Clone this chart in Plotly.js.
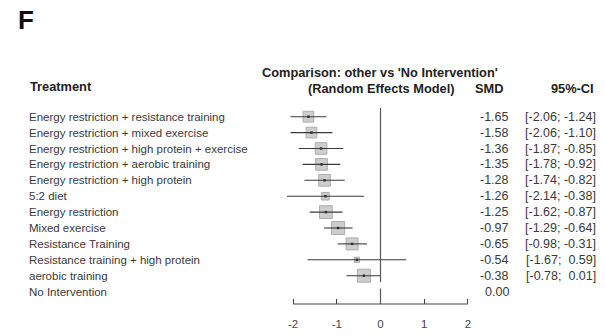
<!DOCTYPE html>
<html>
<head>
<meta charset="utf-8">
<script src="https://cdn.plot.ly/plotly-3.0.1.min.js"></script>
<style>html,body{margin:0;padding:0;background:#fff}</style>
</head>
<body>
<div id="chart" style="width:606px;height:336px"></div>
<script>
// Network meta-analysis forest plot: each treatment compared with 'No Intervention'
const treatments = [
  "Energy restriction + resistance training",
  "Energy restriction + mixed exercise",
  "Energy restriction + high protein + exercise",
  "Energy restriction + aerobic training",
  "Energy restriction + high protein",
  "5:2 diet",
  "Energy restriction",
  "Mixed exercise",
  "Resistance Training",
  "Resistance training + high protein",
  "aerobic training",
  "No Intervention"
];
const smd    = [-1.65, -1.58, -1.36, -1.35, -1.28, -1.26, -1.25, -0.97, -0.65, -0.54, -0.38, 0.00];
const ciLow  = [-2.06, -2.06, -1.87, -1.78, -1.74, -2.14, -1.62, -1.29, -0.98, -1.67, -0.78, null];
const ciHigh = [-1.24, -1.10, -0.85, -0.92, -0.82, -0.38, -0.87, -0.64, -0.31,  0.59,  0.01, null];
// relative study weights (box area)
const weights = [17, 17, 20, 20, 20, 8.5, 24, 25, 21, 4, 25, 0];
const axisTicks = [-2, -1, 0, 1, 2];
const axisTickText = ["-2", "-1", "0", "1", "2"];

const W = 606, H = 336;
const rows = treatments.map((_, i) => i);
const est = rows.filter(i => ciLow[i] !== null);

const fontFam = '"Liberation Sans", Arial, sans-serif';
const px = p => p / W;
const py = p => 1 - p / H;

// confidence interval segments
const ciX = [], ciY = [];
est.forEach(i => { ciX.push(ciLow[i], ciHigh[i], null); ciY.push(i, i, null); });

const traces = [
  {
    type: 'scatter', mode: 'markers',
    x: est.map(i => smd[i]), y: est,
    marker: {
      symbol: 'square',
      size: est.map(i => 2.6 * Math.sqrt(weights[i])),
      color: 'rgba(160,160,160,0.75)',
      line: { color: '#8a8a8a', width: 1 }
    },
    hoverinfo: 'skip', cliponaxis: false
  },
  {
    type: 'scatter', mode: 'lines',
    x: ciX, y: ciY,
    line: { color: '#3a3a3a', width: 1.1 },
    hoverinfo: 'skip', cliponaxis: false
  },
  {
    type: 'scatter', mode: 'markers',
    x: est.map(i => smd[i]), y: est,
    marker: { symbol: 'square', size: 2.5, color: '#333' },
    hoverinfo: 'skip', cliponaxis: false
  }
];

const fmt = v => v.toFixed(2);
const annotations = [];
const headFont = { family: fontFam, size: 12.8, color: '#222' };
const bodyFont = { family: fontFam, size: 11.5, color: '#3a3a3a' };
const valueFont = { family: fontFam, size: 12.5, color: '#3a3a3a' };

// panel letter and headers
annotations.push({ xref: 'paper', yref: 'paper', x: px(16), y: py(20), xanchor: 'left', yanchor: 'middle',
  text: '<b>F</b>', showarrow: false, font: { family: fontFam, size: 26, color: '#111' } });
annotations.push({ xref: 'paper', yref: 'paper', x: px(28), y: py(87), xanchor: 'left', yanchor: 'middle',
  text: '<b>Treatment</b>', showarrow: false, font: headFont });
annotations.push({ xref: 'paper', yref: 'paper', x: px(380), y: py(72), xanchor: 'center', yanchor: 'middle',
  text: "<b>Comparison: other vs 'No Intervention'</b>", showarrow: false, font: headFont });
annotations.push({ xref: 'paper', yref: 'paper', x: px(456), y: py(89), xanchor: 'right', yanchor: 'middle',
  text: '<b>(Random Effects Model)</b>', showarrow: false, font: headFont });
annotations.push({ xref: 'paper', yref: 'paper', x: px(505), y: py(89), xanchor: 'right', yanchor: 'middle',
  text: '<b>SMD</b>', showarrow: false, font: headFont });
annotations.push({ xref: 'paper', yref: 'paper', x: px(596), y: py(89), xanchor: 'right', yanchor: 'middle',
  text: '<b>95%-CI</b>', showarrow: false, font: headFont });

// row labels and values
rows.forEach(i => {
  annotations.push({ xref: 'paper', yref: 'y', x: px(27), y: i, xanchor: 'left', yanchor: 'middle',
    text: treatments[i], showarrow: false, font: bodyFont });
  annotations.push({ xref: 'paper', yref: 'y', x: px(511), y: i, xanchor: 'right', yanchor: 'middle',
    text: fmt(smd[i]), showarrow: false, font: valueFont });
  if (ciLow[i] !== null) {
    const hi = ciHigh[i] >= 0 ? '\u00a0\u00a0' + fmt(ciHigh[i]) : '\u00a0' + fmt(ciHigh[i]);
    annotations.push({ xref: 'paper', yref: 'y', x: px(598), y: i, xanchor: 'right', yanchor: 'middle',
      text: '[' + fmt(ciLow[i]) + ';' + hi + ']', showarrow: false, font: valueFont });
  }
});

// axis geometry: x=0 at 380.5px, 43.7px per unit; rows start at 116.7px, 15.9px apart
const xPix0 = 380.5, xUnit = 43.7;
const domL = 250, domR = 500;
const rowTop = 116.7, rowStep = 15.9;
const domTop = 100, domBot = 304;

const layout = {
  width: W, height: H,
  margin: { l: 0, r: 0, t: 0, b: 0 },
  paper_bgcolor: '#fff', plot_bgcolor: '#fff',
  showlegend: false,
  xaxis: {
    domain: [px(domL), px(domR)],
    range: [(domL - xPix0) / xUnit, (domR - xPix0) / xUnit],
    tickvals: axisTicks, ticktext: axisTickText,
    ticks: 'inside', ticklen: 5, tickcolor: '#444', tickwidth: 1,
    ticklabelstandoff: 11,
    showgrid: false, zeroline: false, showline: false,
    tickfont: { family: fontFam, size: 11.5, color: '#444' },
    fixedrange: true
  },
  yaxis: {
    domain: [1 - domBot / H, 1 - domTop / H],
    range: [(domBot - rowTop) / rowStep, (domTop - rowTop) / rowStep],
    visible: false, showgrid: false, zeroline: false, fixedrange: true
  },
  shapes: [
    { type: 'line', xref: 'x', yref: 'y', x0: 0, x1: 0, y0: -0.55, y1: 10.4,
      line: { color: '#555', width: 1.2 } },
    { type: 'line', xref: 'x', yref: 'y', x0: 0, x1: 0, y0: 10.8, y1: (domBot - rowTop) / rowStep,
      line: { color: '#555', width: 1.2 } },
    { type: 'line', xref: 'x', yref: 'paper', x0: axisTicks[0], x1: axisTicks[axisTicks.length - 1],
      y0: 1 - domBot / H, y1: 1 - domBot / H, line: { color: '#444', width: 1.2 } }
  ],
  annotations: annotations
};

Plotly.newPlot('chart', traces, layout, { displayModeBar: false, staticPlot: true });
</script>
</body>
</html>
